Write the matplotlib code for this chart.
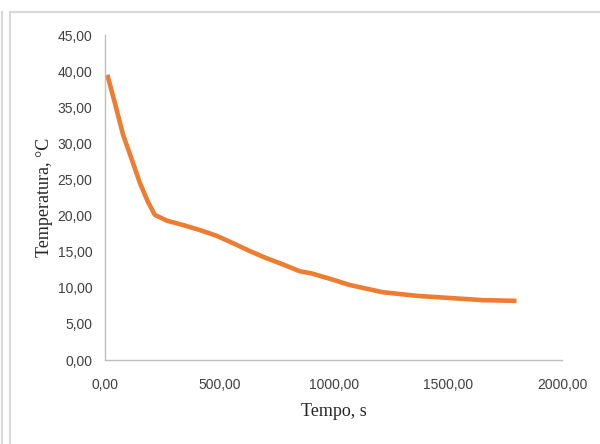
import matplotlib.pyplot as plt
from matplotlib.lines import Line2D
from matplotlib.ticker import FuncFormatter

# tempo (s) e temperatura (°C)
tempo = [10, 44, 79, 118, 153, 188, 218, 271, 341, 415, 489, 559, 633, 707, 782, 852,
         904, 1000, 1070, 1214, 1362, 1507, 1651, 1800]
temperatura = [39.5, 35.5, 31.2, 27.7, 24.5, 21.9, 20.1, 19.3, 18.7, 18.0, 17.2, 16.2, 15.1,
               14.1, 13.2, 12.3, 12.0, 11.1, 10.4, 9.4, 8.9, 8.6, 8.3, 8.2]

x_ticks = [0, 500, 1000, 1500, 2000]
y_ticks = [0, 5, 10, 15, 20, 25, 30, 35, 40, 45]

fig = plt.figure(figsize=(6, 4.44), dpi=100)
ax = fig.add_axes([0.175, 0.189, 0.762, 0.732])

ax.plot(tempo, temperatura, color='#ED7D31', linewidth=3.3,
        solid_capstyle='butt', solid_joinstyle='round')

ax.set_xlim(0, 2000)
ax.set_ylim(0, 45)
ax.set_xticks(x_ticks)
ax.set_yticks(y_ticks)

virgula = FuncFormatter(lambda v, p: f'{v:.2f}'.replace('.', ','))
ax.xaxis.set_major_formatter(virgula)
ax.yaxis.set_major_formatter(virgula)

for s in ['top', 'right']:
    ax.spines[s].set_visible(False)
for s in ['left', 'bottom']:
    ax.spines[s].set_color('#BFBFBF')
    ax.spines[s].set_linewidth(1)

ax.tick_params(length=0, labelsize=10, labelcolor='#404040')
ax.tick_params(axis='x', pad=13)
ax.tick_params(axis='y', pad=9)
for lbl in ax.get_xticklabels() + ax.get_yticklabels():
    lbl.set_family('Liberation Sans')

ax.set_xlabel('Tempo, s', fontsize=13, family='Liberation Serif', color='#262626', labelpad=8)
ax.set_ylabel('Temperatura, °C', fontsize=13, family='Liberation Serif', color='#262626', labelpad=3)

# moldura do gráfico (estilo Excel)
W, H = 600, 444
frame_color = '#D9D9D9'
fig.add_artist(Line2D([10 / W, 1], [1 - 12 / H, 1 - 12 / H], color=frame_color, lw=1.5, transform=fig.transFigure))
fig.add_artist(Line2D([10 / W, 10 / W], [0, 1 - 12 / H], color=frame_color, lw=1.5, transform=fig.transFigure))
fig.add_artist(Line2D([2 / W, 2 / W], [0, 1 - 12 / H], color=frame_color, lw=1.5, transform=fig.transFigure))

fig.savefig('out.png', dpi=100)
